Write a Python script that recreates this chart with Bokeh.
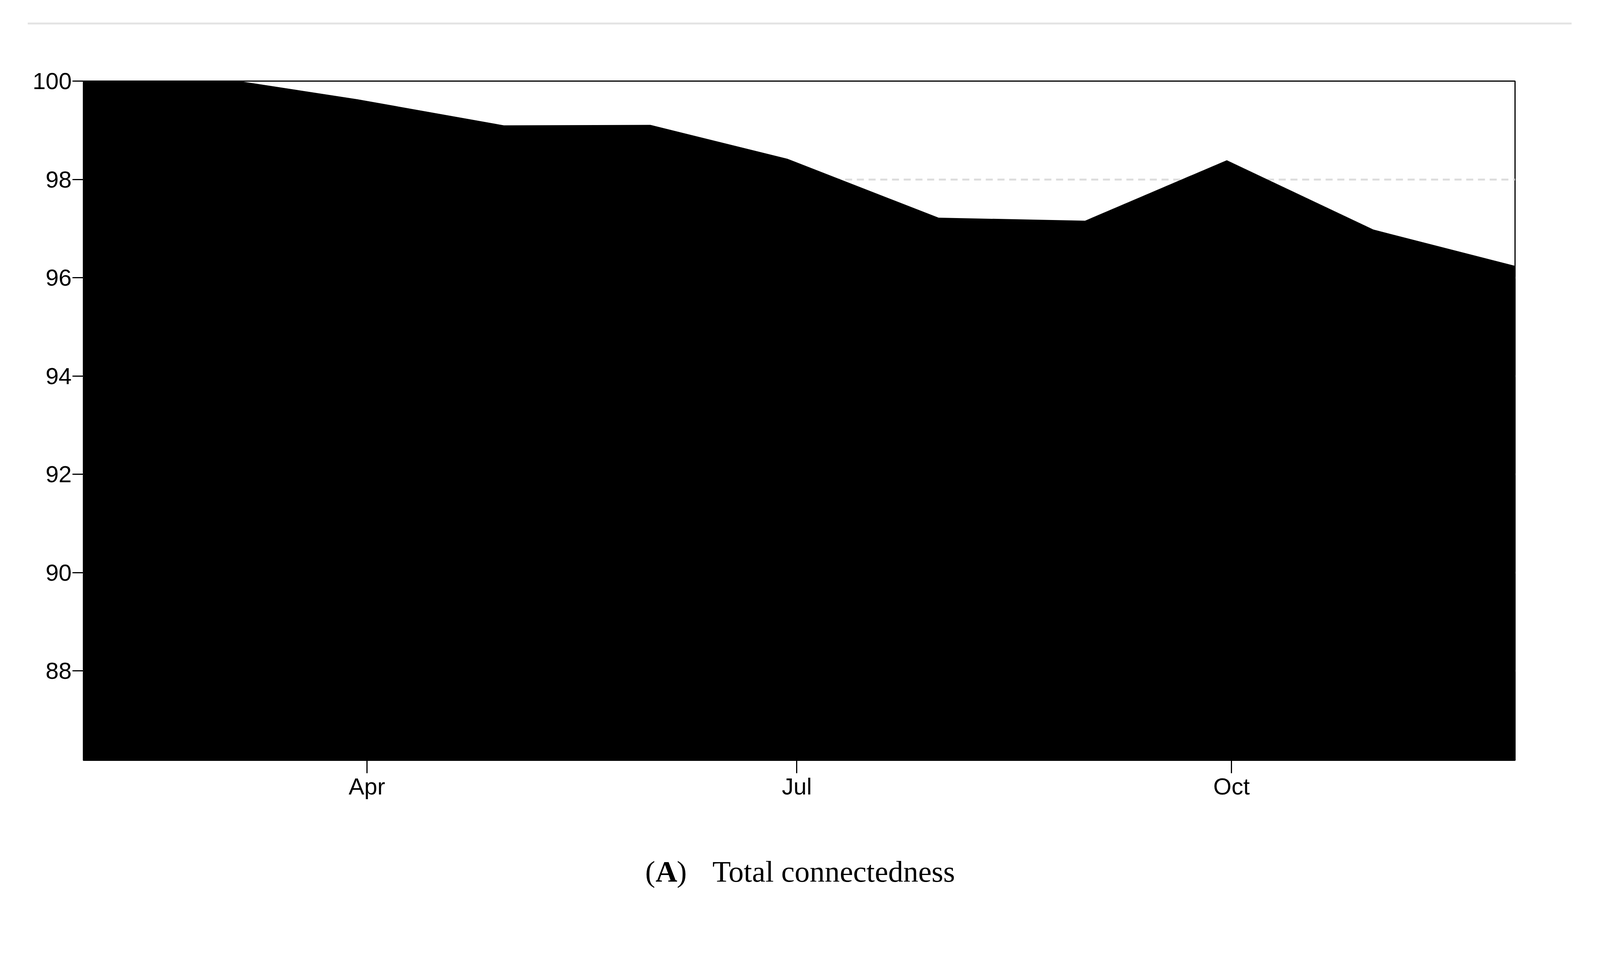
import pandas as pd
from bokeh.embed import file_html
from bokeh.layouts import column
from bokeh.models import BoxAnnotation, DatetimeTickFormatter, FixedTicker, Label
from bokeh.plotting import figure
from bokeh.resources import INLINE

# monthly total connectedness
dates = ['2021-01-31', '2021-03-05', '2021-03-30', '2021-04-30', '2021-05-31', '2021-06-29',
         '2021-07-31', '2021-08-31', '2021-09-30', '2021-10-31', '2021-11-30']
values = [100.0, 100.0, 99.63, 99.10, 99.11, 98.42, 97.22, 97.16, 98.39, 96.98, 96.24]

y_ticks = [88, 90, 92, 94, 96, 98, 100]
month_ticks = ['2021-04-01', '2021-07-01', '2021-10-01']
y_min, y_max = 86.18, 100

caption_tag = 'A'
caption_text = 'Total connectedness'

# the page is laid out in a 4096 px wide window and scaled up to the picture
S = 4096 / 4363


def fx(v):
    # reference-picture pixel -> page pixel
    return v * S


x = pd.to_datetime(dates)
tick_ms = [pd.Timestamp(d).value / 1e6 for d in month_ticks]

W = 4096
H_TOP = 94                      # strip with the grey rule
H_MAIN = round(fx(2250)) - H_TOP
H_CAP = 2322 - H_TOP - H_MAIN   # strip with the caption


def blank(height):
    # figure whose frame covers the whole canvas, 1 unit = 1 px
    f = figure(width=W, height=height, x_range=(0, W), y_range=(0, height),
               output_backend='svg', toolbar_location=None, tools='',
               x_axis_location=None, y_axis_location=None, min_border=0)
    f.outline_line_color = None
    f.grid.visible = False
    f.frame_align = False
    return f


# --- grey rule on top
top_strip = blank(H_TOP)
top_strip.add_layout(BoxAnnotation(left=fx(75), right=fx(4285),
                                   top=H_TOP - fx(61), bottom=H_TOP - fx(66),
                                   fill_color='#e3e3e3', fill_alpha=1.0, line_color=None))

# --- main chart
left, top, right, bottom = fx(227), fx(221) - H_TOP, fx(4131), fx(2072) - H_TOP
p = figure(
    width=W, height=H_MAIN,
    x_axis_type='datetime',
    x_range=(x[0], x[-1]),
    y_range=(y_min, y_max),
    output_backend='svg',
    toolbar_location=None,
    tools='',
)
p.frame_align = False
p.min_border_left = round(left)
p.min_border_right = round(W - right)
p.min_border_top = round(top)
p.min_border_bottom = round(H_MAIN - bottom)

p.varea(x=x, y1=y_min, y2=values, fill_color='black', fill_alpha=1.0)

p.outline_line_color = 'black'
p.outline_line_width = 3
p.outline_line_alpha = 1.0

p.xgrid.visible = False
p.ygrid.ticker = FixedTicker(ticks=y_ticks)
p.ygrid.grid_line_color = '#dddddd'
p.ygrid.grid_line_width = 5
p.ygrid.grid_line_dash = '18 12'

p.yaxis.ticker = FixedTicker(ticks=y_ticks)
p.xaxis.ticker = FixedTicker(ticks=tick_ms)
p.xaxis.formatter = DatetimeTickFormatter(months='%b', days='%b')

for ax in (p.xaxis, p.yaxis):
    ax.axis_line_color = None
    ax.major_tick_line_color = 'black'
    ax.major_tick_line_width = 3
    ax.minor_tick_line_color = None
    ax.major_tick_in = 0
    ax.major_label_text_font = 'Liberation Sans'
    ax.major_label_text_font_size = '60px'
    ax.major_label_text_color = 'black'

p.yaxis.major_tick_out = 28
p.yaxis.major_label_standoff = 2
p.xaxis.major_tick_out = 33
p.xaxis.major_label_standoff = 0

# --- caption "(A)    Total connectedness"
cap = blank(H_CAP)
cap_y = H_CAP - (fx(2403) - H_TOP - H_MAIN) + 26
cap_style = dict(y=cap_y, text_font='Liberation Serif', text_font_size='77px',
                 text_color='black', text_baseline='alphabetic')
cap.add_layout(Label(x=fx(1759), text='(', **cap_style))
cap.add_layout(Label(x=fx(1787), text=caption_tag, text_font_style='bold', **cap_style))
cap.add_layout(Label(x=fx(1845), text=')', **cap_style))
cap.add_layout(Label(x=fx(1942), text=caption_text, **cap_style))

page = column(top_strip, p, cap, spacing=0)
open('out.html', 'w').write(file_html(page, INLINE))
